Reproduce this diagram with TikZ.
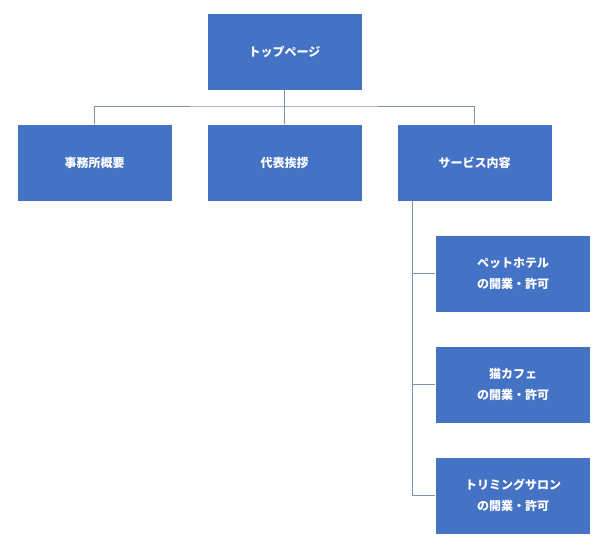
\documentclass[tikz,border=0pt]{standalone}
\usepackage{fontspec}
\newfontfamily\cjk{Noto Sans CJK JP}
\begin{document}
\begin{tikzpicture}[x=1pt,y=-1pt,
	box/.style={draw=white, fill=blueA, minimum width=155pt, minimum height=77pt,
		text=white, font=\cjk\bfseries\fontsize{12}{21}\selectfont, align=center, inner sep=0pt},
	link/.style={draw=lineA, line width=.8pt}]
				\definecolor{blueA}{HTML}{4472C4}
				\definecolor{lineA}{HTML}{7F8FB3}
				\useasboundingbox (0,0) rectangle (600,551);
				\node[box] (top) at (284.5,51.5) {トップページ};
				\node[box] (about) at (94.5,162.5) {事務所概要};
				\node[box] (greet) at (284.5,162.5) {代表挨拶};
				\node[box] (service) at (474.5,162.5) {サービス内容};
				\node[box] (pet) at (513,273.5) {ペットホテル\\の開業・許可};
				\node[box] (cafe) at (513,384.5) {猫カフェ\\の開業・許可};
				\node[box] (trim) at (513,495.5) {トリミングサロン\\の開業・許可};
				% tree lines
				\coordinate (mid) at (284.5,106);
				\draw[link] (top.south) -- (mid);
				\draw[link] (about.north) |- (mid) -| (service.north);
				\draw[link] (mid) -- (greet.north);
				\coordinate (trunk) at (412,201);
				\foreach \n in {pet,cafe,trim}
					\draw[link] (trunk) |- (\n.west);
\end{tikzpicture}
\end{document}
